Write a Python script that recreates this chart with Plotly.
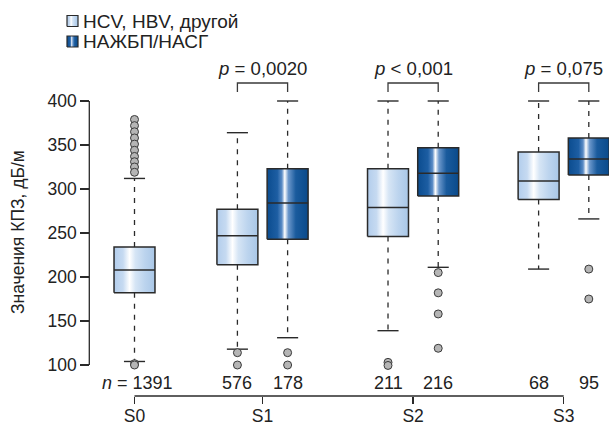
import plotly.graph_objects as go

# ---------------- data ----------------
groups = ["S0", "S1", "S2", "S3"]
series = ["HCV, HBV, другой", "НАЖБП/НАСГ"]

# light series (HCV, HBV, other) per group
light_q1 = [182, 214, 246, 288]
light_med = [208, 247, 279, 309]
light_q3 = [234, 277, 323, 342]
light_lo = [104, 118, 139, 209]
light_hi = [312, 364, 400, 400]
light_out = [
    [379, 372, 365, 358, 351, 344, 337, 331, 325, 319, 101.5, 100],
    [114, 100],
    [103, 99.5],
    [],
]
light_n = [1391, 576, 211, 68]

# dark series (NAFLD/NASH) per group (none for S0)
dark_q1 = [None, 243, 292, 316]
dark_med = [None, 284, 318, 334]
dark_q3 = [None, 323, 347, 358]
dark_lo = [None, 131, 211, 266]
dark_hi = [None, 400, 400, 400]
dark_out = [[], [114, 100], [205, 182, 158, 119], [209, 175]]
dark_n = [None, 178, 216, 95]

p_labels = ["", "<i>p</i> = 0,0020", "<i>p</i> &lt; 0,001", "<i>p</i> = 0,075"]
y_ticks = [100, 150, 200, 250, 300, 350, 400]
y_title = "Значения КПЗ, дБ/м"

# ---------------- layout helpers ----------------
W, H = 609, 424
B = 28
PX0, PXU = 134.5, 50.2          # pixel of x=0, pixels per x unit
PY100, PYU = 365.0, 0.88        # pixel of y=100, pixels per y unit


def xd(px):
    return (px - PX0) / PXU


def yd(py):
    return 100 + (PY100 - py) / PYU


group_x = [0, 2.55, 5.55, 8.55]
light_x = [0, 2.05, 5.05, 8.05]
dark_x = [None, 3.05, 6.05, 9.05]
half_w = 0.408
cap_w = 0.21

INK = "#2a2a2a"
light_cs = [[0, "#b2cdec"], [0.22, "#c6daf1"], [0.38, "#ffffff"], [0.52, "#d6e5f5"],
            [0.75, "#bcd4ee"], [1, "#a9c7e7"]]
dark_cs = [[0, "#0b4c8f"], [0.25, "#1d5ea3"], [0.36, "#5b8cc6"], [0.43, "#ffffff"],
           [0.52, "#6b97cb"], [0.7, "#1a5b9d"], [1, "#0a4a8b"]]

fig = go.Figure()


def add_box(x, q1, med, q3, lo, hi, outs, cs):
    # whiskers (dashed)
    fig.add_trace(go.Scatter(x=[x, x, None, x, x], y=[q3, hi, None, q1, lo], mode="lines",
                             line=dict(color=INK, width=1.3, dash="5px,6px"),
                             hoverinfo="skip", showlegend=False))
    # caps
    fig.add_trace(go.Scatter(x=[x - cap_w, x + cap_w, None, x - cap_w, x + cap_w],
                             y=[hi, hi, None, lo, lo], mode="lines",
                             line=dict(color=INK, width=1.4), hoverinfo="skip", showlegend=False))
    # box body with gradient
    fig.add_trace(go.Scatter(x=[x - half_w, x + half_w, x + half_w, x - half_w, x - half_w],
                             y=[q1, q1, q3, q3, q1], mode="lines", fill="toself",
                             fillgradient=dict(type="horizontal", colorscale=cs),
                             line=dict(color=INK, width=1.5), hoverinfo="skip", showlegend=False))
    # median
    fig.add_trace(go.Scatter(x=[x - half_w, x + half_w], y=[med, med], mode="lines",
                             line=dict(color=INK, width=1.5), hoverinfo="skip", showlegend=False))
    # outliers
    if outs:
        fig.add_trace(go.Scatter(x=[x] * len(outs), y=outs, mode="markers",
                                 marker=dict(symbol="circle", size=8, color="#b5b5b5",
                                             line=dict(color="#3a3a3a", width=1)),
                                 hoverinfo="skip", showlegend=False))


for i in range(len(groups)):
    add_box(light_x[i], light_q1[i], light_med[i], light_q3[i], light_lo[i], light_hi[i],
            light_out[i], light_cs)
    if dark_q1[i] is not None:
        add_box(dark_x[i], dark_q1[i], dark_med[i], dark_q3[i], dark_lo[i], dark_hi[i],
                dark_out[i], dark_cs)

annotations = []
# n labels
n_y = yd(383)
for i in range(len(groups)):
    txt = f"<i>n</i> = {light_n[i]}" if i == 0 else str(light_n[i])
    annotations.append(dict(x=light_x[i], y=n_y, text=txt, showarrow=False,
                            xanchor="center", yanchor="middle",
                            xshift=3 if i == 0 else 0,
                            font=dict(size=18, color="#222")))
    if dark_n[i] is not None:
        annotations.append(dict(x=dark_x[i], y=n_y, text=str(dark_n[i]), showarrow=False,
                                xanchor="center", yanchor="middle",
                                font=dict(size=18, color="#222")))

# p-value brackets
br_top, br_leg = yd(83), yd(92)
for i in range(len(groups)):
    if p_labels[i]:
        a, b = light_x[i], dark_x[i]
        fig.add_trace(go.Scatter(x=[a, a, b, b], y=[br_leg, br_top, br_top, br_leg], mode="lines",
                                 line=dict(color="#3a3a3a", width=1.3), hoverinfo="skip",
                                 showlegend=False))
        annotations.append(dict(x=group_x[i], y=yd(68.5), text=p_labels[i], showarrow=False,
                                xanchor="center", yanchor="middle",
                                font=dict(size=18.6, color="#222")))

# legend (manual, gradient squares)
leg_rows = [(21, light_cs), (41.5, dark_cs)]
for (cy, cs), name in zip(leg_rows, series):
    x0, x1 = xd(67), xd(78)
    y0, y1 = yd(cy + 5.5), yd(cy - 5.5)
    fig.add_trace(go.Scatter(x=[x0, x1, x1, x0, x0], y=[y0, y0, y1, y1, y0], mode="lines",
                             fill="toself", fillgradient=dict(type="horizontal", colorscale=cs),
                             line=dict(color=INK, width=1.2), hoverinfo="skip", showlegend=False))
    annotations.append(dict(x=xd(81), y=yd(cy), text=name, showarrow=False, xanchor="left",
                            yanchor="middle", font=dict(size=19, color="#222")))

# y-axis title
annotations.append(dict(xref="paper", x=18 / W, y=yd(232), text=y_title, textangle=-90,
                        showarrow=False, xanchor="center", yanchor="middle",
                        font=dict(size=17.5, color="#222")))

axis_x_px = 89.3
shapes = [
    # y axis line from 100 to 400
    dict(type="line", xref="paper", yref="y", x0=axis_x_px / W, x1=axis_x_px / W,
         y0=y_ticks[0], y1=y_ticks[-1], line=dict(color=INK, width=1.3)),
    # x axis line from S0 to S3
    dict(type="line", xref="x", yref="paper", x0=group_x[0], x1=group_x[-1], y0=0, y1=0,
         line=dict(color=INK, width=1.3)),
]

fig.update_layout(
    width=W, height=H,
    margin=dict(l=0, r=0, t=0, b=B),
    paper_bgcolor="white", plot_bgcolor="white",
    font=dict(family="Liberation Sans, Arial, sans-serif", color="#222"),
    showlegend=False,
    annotations=annotations,
    shapes=shapes,
    xaxis=dict(range=[xd(0), xd(W)], domain=[0, 1], showgrid=False, zeroline=False,
               showline=False, tickvals=group_x, ticktext=groups, ticks="outside",
               ticklen=7, tickwidth=1.3, tickcolor=INK, tickfont=dict(size=17.5),
               ticklabelstandoff=-3, automargin=False),
    yaxis=dict(range=[yd(H - B), yd(0)], anchor="free", position=axis_x_px / W,
               showgrid=False, zeroline=False, showline=False, tickvals=y_ticks,
               ticks="outside", ticklen=9, tickwidth=1.3, tickcolor=INK,
               tickfont=dict(size=17.5), automargin=False),
)

fig.write_html(
    "out.html",
    config={"displayModeBar": False, "staticPlot": True},
    post_script="document.documentElement.style.margin='0';"
                "document.body.style.margin='0';document.body.style.overflow='hidden';",
)
